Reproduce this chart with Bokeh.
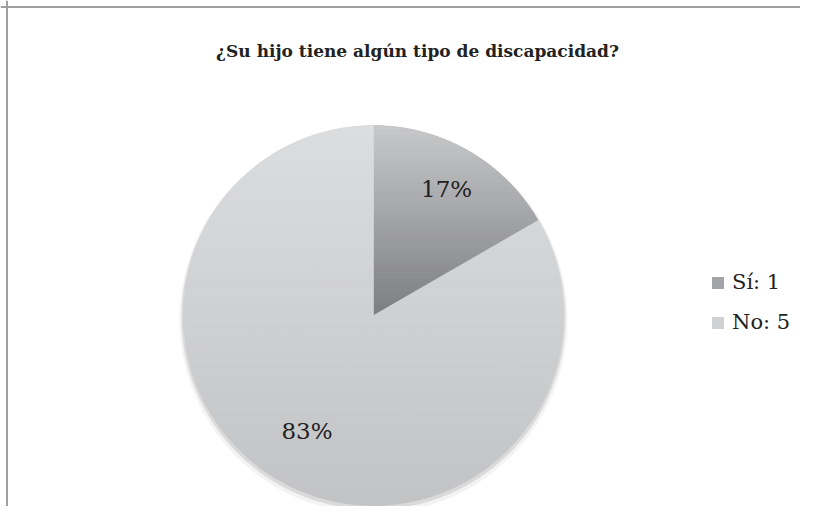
import math
from bokeh.plotting import figure
from bokeh.models import ColumnDataSource, Range1d, Label, Span, Legend, LegendItem
from bokeh.core.properties import value
from bokeh.embed import file_html
from bokeh.resources import INLINE

# ---- data ----
categories = ["Sí", "No"]
counts = [1, 5]
colors = ["#a3a4a7", "#d0d1d3"]
title_text = "¿Su hijo tiene algún tipo de discapacidad?"

# ---- styling / positions ----
W, H = 800, 506
cx, cy, r = 373, 191, 190
label_frac = [0.77, 0.70]
grad_top = [(0xc8, 0xc9, 0xcb), (0xdc, 0xdd, 0xdf)]
grad_bot = [(0x7c, 0x7d, 0x80), (0xc2, 0xc3, 0xc5)]
N_BANDS = 40

total = sum(counts)
starts, ends, mids, pcts, legends = [], [], [], [], []
ang = math.pi / 2
for c, n in zip(categories, counts):
    frac = n / total
    s = ang
    e = ang - 2 * math.pi * frac
    starts.append(s)
    ends.append(e)
    mids.append((s + e) / 2)
    pcts.append(f"{round(frac * 100)}%")
    legends.append(f"{c}: {n}")
    ang = e

src = ColumnDataSource(dict(
    cat=categories, val=counts, start=starts, end=ends, color=colors,
    legend=legends, pct=pcts,
    lx=[cx + f * r * math.cos(m) for f, m in zip(label_frac, mids)],
    ly=[cy + f * r * math.sin(m) for f, m in zip(label_frac, mids)],
))


def clip_half(poly, y0, keep_above):
    out = []
    n = len(poly)
    for i in range(n):
        ax, ay = poly[i]
        bx, by = poly[(i + 1) % n]
        ina = ay >= y0 if keep_above else ay <= y0
        inb = by >= y0 if keep_above else by <= y0
        if ina:
            out.append((ax, ay))
        if ina != inb:
            t = (y0 - ay) / (by - ay)
            out.append((ax + t * (bx - ax), y0))
    return out


band_xs, band_ys, band_cols = [], [], []
for i in range(len(categories)):
    s, e = starts[i], ends[i]
    ymin = min([cy] + [cy + r * math.sin(s + (e - s) * k / 400) for k in range(401)])
    ymax = max([cy] + [cy + r * math.sin(s + (e - s) * k / 400) for k in range(401)])
    nsub = max(1, math.ceil(abs(s - e) / (math.pi / 3)))
    for j in range(nsub):
        ss = s + (e - s) * j / nsub
        ee = s + (e - s) * (j + 1) / nsub
        m = 30
        poly = [(cx, cy)] + [(cx + r * math.cos(ss + (ee - ss) * k / m),
                              cy + r * math.sin(ss + (ee - ss) * k / m)) for k in range(m + 1)]
        for b in range(N_BANDS):
            y0 = ymin + (ymax - ymin) * b / N_BANDS
            y1 = ymin + (ymax - ymin) * (b + 1) / N_BANDS
            pc = clip_half(clip_half(poly, y0, True), y1, False)
            if len(pc) < 3:
                continue
            t = 1 - (b + 0.5) / N_BANDS  # 0 at top, 1 at bottom
            rgb = [round(grad_top[i][k] + (grad_bot[i][k] - grad_top[i][k]) * t) for k in range(3)]
            band_xs.append([pt[0] for pt in pc])
            band_ys.append([pt[1] for pt in pc])
            band_cols.append("#%02x%02x%02x" % tuple(rgb))

p = figure(width=W, height=H, output_backend="svg", toolbar_location=None,
           x_range=Range1d(0, W), y_range=Range1d(0, H),
           min_border=0, outline_line_color=None)
p.axis.visible = False
p.grid.visible = False
p.background_fill_color = "white"
p.border_fill_color = "white"

# soft shadow
p.circle(x=[cx], y=[cy - 4], radius=r + 4, fill_color="#9a9a9a", fill_alpha=0.12, line_color=None)
p.circle(x=[cx], y=[cy - 2], radius=r + 2, fill_color="#9a9a9a", fill_alpha=0.28, line_color=None)

wr = p.wedge(x=cx, y=cy, radius=r, start_angle="start", end_angle="end",
             direction="clock", fill_color="color", line_color=None, source=src)

# vertical gradient shading of the slices
p.patches(xs=band_xs, ys=band_ys, fill_color=band_cols, line_color=band_cols, line_width=0.6)

p.text(x="lx", y="ly", text="pct", source=src, text_align="center",
       text_baseline="middle", text_font=value("DejaVu Serif"),
       text_font_size="23px", text_color="#222222")

items = [LegendItem(label=legends[i], renderers=[wr], index=i) for i in range(len(categories))]
leg = Legend(items=items, location=(710, 172), background_fill_alpha=0,
             border_line_color=None, label_text_font="DejaVu Serif",
             label_text_font_size="21px", label_text_color="#222222",
             glyph_width=15, glyph_height=15, label_height=22, spacing=16,
             padding=0, margin=0, label_standoff=7)
p.add_layout(leg)

p.add_layout(Label(x=417, y=H - 50, text=title_text, text_align="center",
                   text_baseline="middle", text_font="DejaVu Serif",
                   text_font_style="bold", text_font_size="17px",
                   text_color="#222222"))

p.add_layout(Span(location=H - 6.5, dimension="width", line_color="#a0a0a0", line_width=2))
p.add_layout(Span(location=6.5, dimension="height", line_color="#a0a0a0", line_width=2))

open("out.html", "w").write(file_html(p, INLINE))
